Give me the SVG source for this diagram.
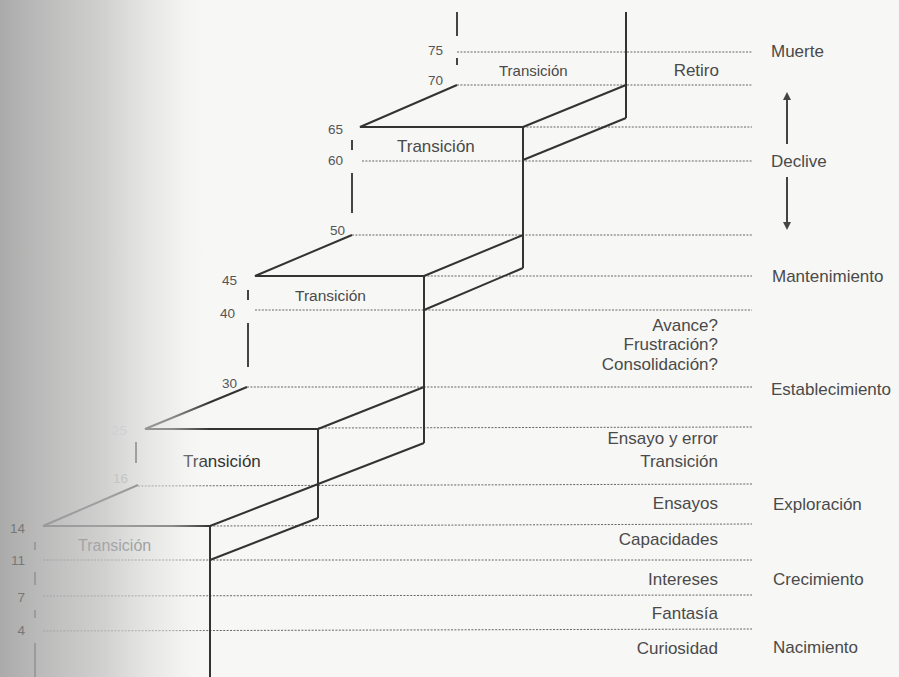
<svg xmlns="http://www.w3.org/2000/svg" width="899" height="677" viewBox="0 0 899 677">
  <defs>
    <style>
      .guide { stroke: #666; stroke-width: 1; stroke-dasharray: 2 1.4; fill: none; }
      .stair { stroke: #333; stroke-width: 2; fill: none; stroke-linejoin: miter; }
      .tick { stroke: #444; stroke-width: 2; }
      .num { font-family: "Liberation Sans", Arial, sans-serif; font-size: 13.5px; fill: #555; text-anchor: end; }
      .lbl { font-family: "Liberation Sans", Arial, sans-serif; font-size: 17px; fill: #4a4a4a; }
      .r { text-anchor: end; }
      .arrow { stroke: #444; stroke-width: 2; }
    </style>
    <marker id="head" viewBox="0 0 10 10" refX="5" refY="5" markerWidth="4" markerHeight="4.5" orient="auto-start-reverse" markerUnits="strokeWidth">
      <path d="M0,0 L10,5 L0,10 Z" fill="#444"/>
    </marker>
    <linearGradient id="edge" x1="0" y1="0" x2="1" y2="0">
      <stop offset="0" stop-color="#a0a0a0" stop-opacity="0.88"/>
      <stop offset="0.5" stop-color="#c4c4c4" stop-opacity="0.75"/>
      <stop offset="0.82" stop-color="#e6e6e6" stop-opacity="0.5"/>
      <stop offset="1" stop-color="#f6f6f4" stop-opacity="0"/>
    </linearGradient>
  </defs>

  <rect width="899" height="677" fill="#f7f7f5"/>

  <!-- age guide lines -->
  <g id="guides">
    <line class="guide" x1="457" y1="52" x2="752" y2="52"/>
    <line class="guide" x1="457" y1="85" x2="752" y2="85"/>
    <line class="guide" x1="523" y1="127" x2="752" y2="127"/>
    <line class="guide" x1="362" y1="161" x2="752" y2="161"/>
    <line class="guide" x1="352" y1="235" x2="752" y2="235"/>
    <line class="guide" x1="424" y1="276" x2="752" y2="276"/>
    <line class="guide" x1="255" y1="310" x2="752" y2="310"/>
    <line class="guide" x1="247" y1="387" x2="752" y2="387"/>
    <line class="guide" x1="318" y1="428" x2="752" y2="427"/>
    <line class="guide" x1="138" y1="486" x2="752" y2="484"/>
    <line class="guide" x1="210" y1="526" x2="752" y2="524"/>
    <line class="guide" x1="43" y1="560" x2="752" y2="560"/>
    <line class="guide" x1="43" y1="596" x2="752" y2="595"/>
    <line class="guide" x1="43" y1="631" x2="752" y2="629"/>
  </g>

  <!-- staircase -->
  <g id="stairs">
    <path class="stair" d="M626,12 V118"/>
    <path class="stair" d="M626,85 L523,127"/>
    <path class="stair" d="M626,118 L523,160"/>
    <path class="stair" d="M457,85 L360,127 H523"/>
    <path class="stair" d="M523,127 V268"/>
    <path class="stair" d="M523,235 L424,276"/>
    <path class="stair" d="M523,268 L424,310"/>
    <path class="stair" d="M352,235 L255,276 H424"/>
    <path class="stair" d="M424,276 V443"/>
    <path class="stair" d="M424,387 L318,429"/>
    <path class="stair" d="M424,443 L210,526"/>
    <path class="stair" d="M247,387 L145,429 H318"/>
    <path class="stair" d="M318,429 V518"/>
    <path class="stair" d="M318,518 L210,560"/>
    <path class="stair" d="M138,485 L43,526 H210"/>
    <path class="stair" d="M210,526 V677"/>
  </g>

  <!-- age scale ticks -->
  <g id="ticks">
    <line class="tick" x1="457" y1="12" x2="457" y2="36"/>
    <line class="tick" x1="457" y1="58" x2="457" y2="65"/>
    <line class="tick" x1="352" y1="140" x2="352" y2="150"/>
    <line class="tick" x1="352" y1="173" x2="352" y2="213"/>
    <line class="tick" x1="248" y1="290" x2="248" y2="300"/>
    <line class="tick" x1="248" y1="323" x2="248" y2="367"/>
    <line class="tick" x1="136" y1="442" x2="136" y2="463"/>
    <line class="tick" x1="35" y1="542" x2="35" y2="550"/>
    <line class="tick" x1="35" y1="572" x2="35" y2="585"/>
    <line class="tick" x1="35" y1="610" x2="35" y2="618"/>
    <line class="tick" x1="35" y1="643" x2="35" y2="677"/>
  </g>

  <!-- age numbers -->
  <g id="ages">
    <text class="num" x="443" y="55">75</text>
    <text class="num" x="443" y="85">70</text>
    <text class="num" x="343" y="134">65</text>
    <text class="num" x="343" y="165">60</text>
    <text class="num" x="345" y="235">50</text>
    <text class="num" x="237" y="285">45</text>
    <text class="num" x="235" y="318">40</text>
    <text class="num" x="237" y="388">30</text>
  </g>

  <!-- transition labels -->
  <g id="transitions">
    <text class="lbl" x="499" y="76" style="font-size:15px">Transición</text>
    <text class="lbl" x="397" y="152">Transición</text>
    <text class="lbl" x="295" y="301" style="font-size:15.5px">Transición</text>
    <text class="lbl" x="183" y="467" style="fill:#333">Transición</text>
    <text class="lbl" x="78" y="551" style="font-size:16px">Transición</text>
  </g>

  <!-- activity labels -->
  <g id="activities">
    <text class="lbl r" x="719" y="76">Retiro</text>
    <text class="lbl r" x="718" y="331">Avance?</text>
    <text class="lbl r" x="718" y="350">Frustración?</text>
    <text class="lbl r" x="718" y="370">Consolidación?</text>
    <text class="lbl r" x="718" y="444">Ensayo y error</text>
    <text class="lbl r" x="718" y="467">Transición</text>
    <text class="lbl r" x="718" y="509">Ensayos</text>
    <text class="lbl r" x="718" y="545">Capacidades</text>
    <text class="lbl r" x="718" y="585">Intereses</text>
    <text class="lbl r" x="718" y="619">Fantasía</text>
    <text class="lbl r" x="718" y="654">Curiosidad</text>
  </g>

  <!-- life stages -->
  <g id="stages">
    <text class="lbl" x="771" y="57">Muerte</text>
    <line class="arrow" x1="787" y1="144" x2="787" y2="96" marker-end="url(#head)"/>
    <text class="lbl" x="771" y="167">Declive</text>
    <line class="arrow" x1="787" y1="177" x2="787" y2="226" marker-end="url(#head)"/>
    <text class="lbl" x="772" y="282">Mantenimiento</text>
    <text class="lbl" x="771" y="395">Establecimiento</text>
    <text class="lbl" x="773" y="510">Exploración</text>
    <text class="lbl" x="773" y="585">Crecimiento</text>
    <text class="lbl" x="773" y="653">Nacimiento</text>
  </g>

  <!-- shaded page gutter -->
  <rect x="0" y="0" width="210" height="677" fill="url(#edge)"/>

  <!-- numbers in the shaded gutter -->
  <g id="ages-gutter">
    <text class="num" x="127" y="435" style="fill:#d0d0d0">25</text>
    <text class="num" x="128" y="483" style="fill:#c4c4c4">16</text>
    <text class="num" x="25" y="533" style="fill:#777">14</text>
    <text class="num" x="25" y="565" style="fill:#777">11</text>
    <text class="num" x="25" y="602" style="fill:#777">7</text>
    <text class="num" x="25" y="635" style="fill:#777">4</text>
  </g>
</svg>
